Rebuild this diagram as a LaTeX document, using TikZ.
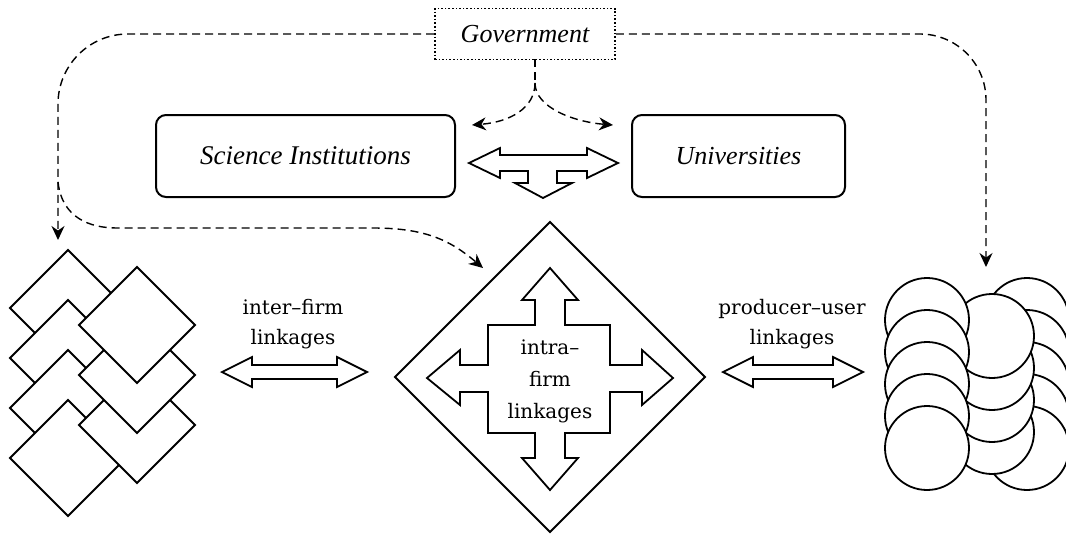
\documentclass[tikz,border=0pt]{standalone}
\usepackage{fontspec}
\setmainfont{Liberation Serif}
\newfontfamily\linkfont{DejaVu Serif}
\usetikzlibrary{arrows.meta, positioning}

\tikzset{
  govbox/.style={draw, densely dotted, line width=0.8pt, minimum width=90pt, minimum height=25.5pt,
    font=\fontsize{13}{15}\selectfont\itshape},
  instbox/.style={draw, rounded corners=5pt, line width=1pt, minimum height=41pt,
    font=\fontsize{13}{15}\selectfont\itshape},
  link/.style={dash pattern=on 4pt off 2.5pt, line width=0.7pt, -{Stealth[length=7pt,width=6.5pt]}},
  block/.style={draw, fill=white, line width=0.9pt, line join=miter},
  tile/.style={draw, fill=white, line width=0.9pt},
  linklabel/.style={align=center, font=\linkfont\fontsize{10}{15}\selectfont}
}

\begin{document}
\begin{tikzpicture}[x=0.5pt, y=-0.5pt]
    \useasboundingbox (0,0) rectangle (1066,542);

    % Top row: government and institutions
    \node[govbox] (gov) at (525,34) {Government};
    \node[instbox, minimum width=149.5pt, font=\fontsize{13.5}{15}\selectfont\itshape] (sci) at (305.5,156) {Science Institutions};
    \node[instbox, minimum width=106.5pt] (uni) at (738.5,156) {Universities};

    % Government influence lines
    \coordinate (firms) at (58,240);
    \coordinate (users) at (986,267);
    \coordinate (fork) at (58,182);
    \coordinate (intra) at (483,268);
    \coordinate (split) at (535,83);
    \draw[link, rounded corners=35pt] (gov.west) -| (firms);
    \draw[link, rounded corners=33pt] (gov.east) -| (users);
    \draw[link] (fork) .. controls (62,218) and (90,228) .. (117,228) -- (373,228)
        .. controls (425,228) and (450,240) .. (intra);
    \draw[link, -] (535,59) -- (split);
    \draw[link] (split) .. controls (535,108) and (510,122) .. (472,125);
    \draw[link] (split) .. controls (535,108) and (575,122) .. (613,125);

    % T-shaped arrow between science and universities
    \draw[block] (469,163) -- (500,148) -- (500,155) -- (587,155) -- (587,148) -- (618,163)
        -- (587,178) -- (587,171) -- (557,171) -- (557,183) -- (572,183) -- (543,198)
        -- (515,183) -- (528,183) -- (528,171) -- (500,171) -- (500,178) -- cycle;

    % Firms: stacked diamonds
    \foreach \y in {308,358,408,458}
        \draw[tile] (68,{\y-58}) -- (126,\y) -- (68,{\y+58}) -- (10,\y) -- cycle;
    \foreach \y in {425,375,325}
        \draw[tile] (137,{\y-58}) -- (195,\y) -- (137,{\y+58}) -- (79,\y) -- cycle;

    % Firm with internal linkages
    \draw[tile] (550,222) -- (705,377) -- (550,532) -- (395,377) -- cycle;
    \draw[block] (550,268) -- (578,300) -- (565,300) -- (565,325) -- (610,325) -- (610,365)
        -- (642,365) -- (642,350) -- (673,378) -- (642,405) -- (642,392) -- (610,392)
        -- (610,433) -- (565,433) -- (565,458) -- (578,458) -- (550,490) -- (522,458)
        -- (535,458) -- (535,433) -- (488,433) -- (488,392) -- (460,392) -- (460,405)
        -- (427,378) -- (460,350) -- (460,365) -- (488,365) -- (488,325) -- (535,325)
        -- (535,300) -- (522,300) -- cycle;
    \node[linklabel, font=\linkfont\fontsize{10}{16}\selectfont] (intralbl) at (550,381) {intra–\\firm\\linkages};

    % Users: stacked discs
    \foreach \y in {320,352,384,416,448}
        \draw[tile] (1027,\y) circle[radius=21pt];
    \foreach \y in {432,400,368,336}
        \draw[tile] (992,\y) circle[radius=21pt];
    \foreach \y in {320,352,384,416,448}
        \draw[tile] (927,\y) circle[radius=21pt];

    % Linkage arrows and labels
    \node[linklabel] (interlbl) at (293,324) {inter–firm\\linkages};
    \node[linklabel] (userlbl) at (792,324) {producer–user\\linkages};
    \draw[block] (222,372) -- (252,357) -- (252,365) -- (337,365) -- (337,357) -- (367,372)
        -- (337,387) -- (337,379) -- (252,379) -- (252,387) -- cycle;
    \draw[block] (723,372) -- (753,357) -- (753,365) -- (833,365) -- (833,357) -- (863,372)
        -- (833,387) -- (833,379) -- (753,379) -- (753,387) -- cycle;
\end{tikzpicture}
\end{document}
